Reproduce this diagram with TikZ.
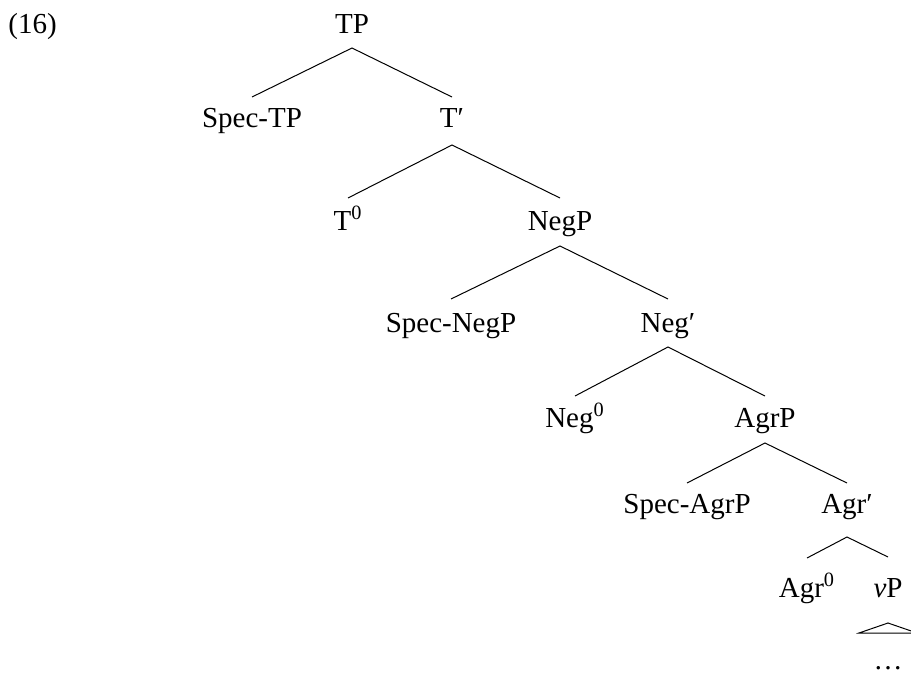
\documentclass[tikz,border=0pt]{standalone}
\usepackage{fontspec}
\setmainfont{Liberation Serif}
\usetikzlibrary{calc}
\begin{document}
\begin{tikzpicture}[x=0.5pt,y=-0.5pt,
  lab/.style={anchor=base,inner sep=0pt,font=\fontsize{14.5}{16}\selectfont},
  edge/.style={line width=0.5pt}]
\useasboundingbox (0,0) rectangle (911,675);
\node[lab,anchor=base west] (ex) at (8,33) {(16)};
\node[lab] (TP) at (352,33) {TP};
\node[lab] (SpecTP) at (252,127) {Spec-TP};
\node[lab] (Tbar) at (452,127) {T′};
\node[lab] (T0) at (348,230) {T\textsuperscript{0}};
\node[lab] (NegP) at (560,230) {NegP};
\node[lab] (SpecNegP) at (451,332) {Spec-NegP};
\node[lab] (Negbar) at (668,332) {Neg′};
\node[lab] (Neg0) at (575,427) {Neg\textsuperscript{0}};
\node[lab] (AgrP) at (765,427) {AgrP};
\node[lab] (SpecAgrP) at (687,513) {Spec-AgrP};
\node[lab] (Agrbar) at (847,513) {Agr′};
\node[lab] (Agr0) at (807,597) {Agr\textsuperscript{0}};
\node[lab] (vP) at (888,597) {\textit{v}P};
\node[lab] (dots) at (888,669) {\dots};
% edges
\draw[edge] ($(SpecTP.base)+(0,-30)$) -- ($(TP.base)+(0,15)$) -- ($(Tbar.base)+(0,-30)$);
\draw[edge] ($(T0.base)+(0,-32)$) -- ($(Tbar.base)+(0,18)$) -- ($(NegP.base)+(0,-32)$);
\draw[edge] ($(SpecNegP.base)+(0,-33)$) -- ($(NegP.base)+(0,16)$) -- ($(Negbar.base)+(0,-33)$);
\draw[edge] ($(Neg0.base)+(0,-31)$) -- ($(Negbar.base)+(0,15)$) -- ($(AgrP.base)+(0,-31)$);
\draw[edge] ($(SpecAgrP.base)+(0,-30)$) -- ($(AgrP.base)+(0,16)$) -- ($(Agrbar.base)+(0,-30)$);
\draw[edge] ($(Agr0.base)+(0,-39)$) -- ($(Agrbar.base)+(0,24)$) -- ($(vP.base)+(0,-40)$);
\draw[edge] ($(vP.base)+(0,26)$) -- ($(vP.base)+(-29,36)$) -- ($(vP.base)+(29,36)$) -- cycle;
\end{tikzpicture}
\end{document}
